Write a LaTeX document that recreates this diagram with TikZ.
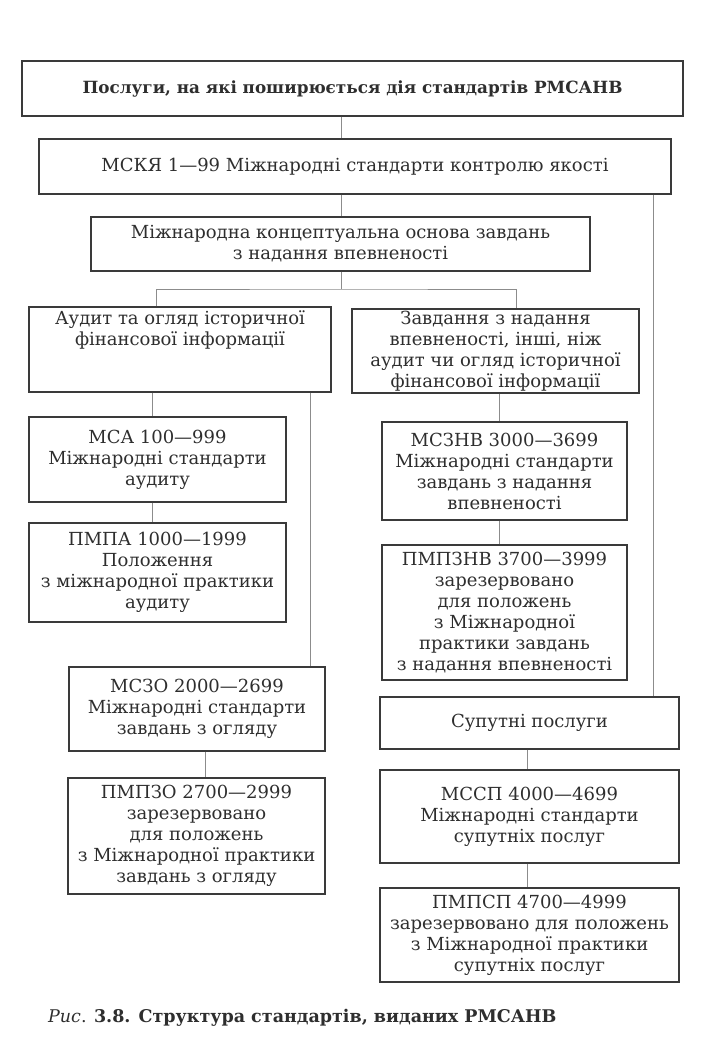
\documentclass[tikz,border=0pt]{standalone}
\usepackage{fontspec}
\setmainfont{DejaVu Serif}
\usetikzlibrary{positioning}
\definecolor{boxgray}{HTML}{3A3A3A}
\definecolor{linegray}{HTML}{8C8C8C}
\definecolor{txtgray}{HTML}{2E2E2E}
\newcommand{\fsz}{\fontsize{18}{21}\selectfont}
\newcommand{\fszb}{\fontsize{16.8}{21}\selectfont\bfseries}
\tikzset{
  blk/.style={draw=boxgray, line width=1.3pt, rectangle, align=center, inner sep=2pt, font=\fsz, text=txtgray},
  ln/.style={draw=linegray, line width=0.9pt},
}
\begin{document}
\begin{tikzpicture}[x=1pt, y=-1pt]
\useasboundingbox (0,0) rectangle (702,1045);

% Top level
\node[blk, minimum width=661pt, minimum height=55pt, font=\fszb] (top) at (352.5,88.5)
  {Послуги, на які поширюється дія стандартів РМСАНВ};
\node[blk, minimum width=632pt, minimum height=55pt] (mskya) at (355,166.5)
  {МСКЯ 1---99 Міжнародні стандарти контролю якості};
\node[blk, minimum width=499pt, minimum height=54pt] (osnova) at (340.5,244)
  {Міжнародна концептуальна основа завдань\\з надання впевненості};

% Two branches
\node[blk, minimum width=302pt, minimum height=85pt] (audyt) at (180,349.5)
  {Аудит та огляд історичної\\фінансової інформації\\~\\~};
\node[blk, minimum width=287pt, minimum height=84pt] (zavd) at (495.5,351)
  {Завдання з надання\\впевненості, інші, ніж\\аудит чи огляд історичної\\фінансової інформації};

% Left column
\node[blk, minimum width=257pt, minimum height=85pt] (msa) at (157.5,459.5)
  {МСА 100---999\\Міжнародні стандарти\\аудиту};
\node[blk, minimum width=257pt, minimum height=99pt] (pmpa) at (157.5,572.5)
  {ПМПА 1000---1999\\Положення\\з міжнародної практики\\аудиту};
\node[blk, minimum width=256pt, minimum height=84pt] (mszo) at (197,709)
  {МСЗО 2000---2699\\Міжнародні стандарти\\завдань з огляду};
\node[blk, minimum width=257pt, minimum height=116pt] (pmpzo) at (196.5,836)
  {ПМПЗО 2700---2999\\зарезервовано\\для положень\\з Міжнародної практики\\завдань з огляду};

% Right column
\node[blk, minimum width=245pt, minimum height=98pt] (mszhv) at (504.5,471)
  {МСЗНВ 3000---3699\\Міжнародні стандарти\\завдань з надання\\впевненості};
\node[blk, minimum width=245pt, minimum height=135pt] (pmpzhv) at (504.5,612.5)
  {ПМПЗНВ 3700---3999\\зарезервовано\\для положень\\з Міжнародної\\практики завдань\\з надання впевненості};
\node[blk, minimum width=299pt, minimum height=52pt] (suput) at (529.5,723)
  {Супутні послуги};
\node[blk, minimum width=299pt, minimum height=93pt] (mssp) at (529.5,816.5)
  {МССП 4000---4699\\Міжнародні стандарти\\супутніх послуг};
\node[blk, minimum width=299pt, minimum height=94pt] (pmpsp) at (529.5,935)
  {ПМПСП 4700---4999\\зарезервовано для положень\\з Міжнародної практики\\супутніх послуг};

% Caption
\node[anchor=west, font=\fontsize{17.5}{21}\selectfont, text=txtgray, inner sep=0pt] (cap) at (48,1018)
  {\textit{Рис}. \textbf{3.8. Структура стандартів, виданих РМСАНВ}};

% Connector columns
\coordinate (cx) at (341,0);
\coordinate (sl) at (156,0);
\coordinate (sr) at (516,0);
\coordinate (sp) at (653,0);
\coordinate (a1) at (152,0);
\coordinate (a2) at (310,0);
\coordinate (z1) at (499,0);
\coordinate (o1) at (205,0);
\coordinate (s1) at (527,0);
\coordinate (split) at (341,289);

% Connectors
\draw[ln] (top.south -| cx) -- (mskya.north -| cx);
\draw[ln] (mskya.south -| cx) -- (osnova.north -| cx);
\draw[ln] (osnova.south -| cx) -- (split);
\draw[ln] (audyt.north -| sl) |- (split) -| (zavd.north -| sr);
\draw[ln] (mskya.south -| sp) -- (suput.north -| sp);
\draw[ln] (audyt.south -| a1) -- (msa.north -| a1);
\draw[ln] (msa.south -| a1) -- (pmpa.north -| a1);
\draw[ln] (audyt.south -| a2) -- (mszo.north -| a2);
\draw[ln] (mszo.south -| o1) -- (pmpzo.north -| o1);
\draw[ln] (zavd.south -| z1) -- (mszhv.north -| z1);
\draw[ln] (mszhv.south -| z1) -- (pmpzhv.north -| z1);
\draw[ln] (suput.south -| s1) -- (mssp.north -| s1);
\draw[ln] (mssp.south -| s1) -- (pmpsp.north -| s1);

\end{tikzpicture}
\end{document}
